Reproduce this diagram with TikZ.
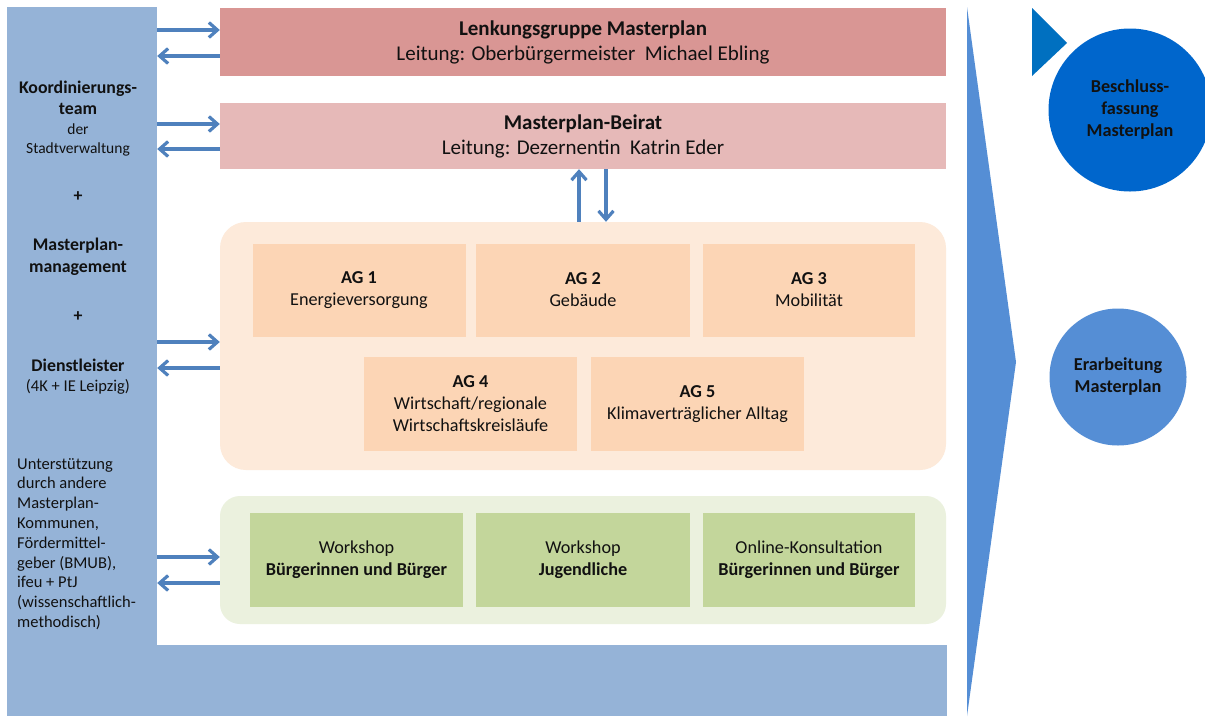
\documentclass[tikz,border=0pt]{standalone}
\usepackage{fontspec}
\setmainfont{Carlito}
\usetikzlibrary{arrows.meta, positioning, calc}
\definecolor{CPanel}{HTML}{95B3D7}
\definecolor{CLenk}{HTML}{D99694}
\definecolor{CBeirat}{HTML}{E6B9B8}
\definecolor{CPeachLight}{HTML}{FDEADA}
\definecolor{CPeach}{HTML}{FCD5B5}
\definecolor{CGreenLight}{HTML}{EBF1DE}
\definecolor{CGreen}{HTML}{C3D69B}
\definecolor{CArrow}{HTML}{4F81BD}
\definecolor{CChevron}{HTML}{558ED5}
\definecolor{CDecide}{HTML}{0066CC}
\definecolor{CTri}{HTML}{0070C0}
\definecolor{CText}{HTML}{111111}
\newcommand{\fsTop}{\fontsize{21}{25}\selectfont}
\newcommand{\fsBox}{\fontsize{18.2}{22}\selectfont}
\newcommand{\fsSide}{\fontsize{17.8}{21.5}\selectfont}
\newcommand{\fsSmall}{\fontsize{15.5}{19}\selectfont}
\newcommand{\fsNote}{\fontsize{16.5}{19.8}\selectfont}

\begin{document}
\begin{tikzpicture}[x=1pt, y=-1pt,
    box/.style={rectangle, inner sep=0pt, align=center, text=CText},
    sidetext/.style={inner sep=0pt, align=center, text=CText, font=\fsSide},
    flow/.style={draw=CArrow, line width=3.2pt, -{Straight Barb[length=8.5pt,width=15pt]}},
    phase/.style={circle, inner sep=0pt, align=center, text=CText, font=\fsBox\bfseries}]
    \useasboundingbox[fill=white] (0,0) rectangle (1205,716);

    % Coordination panel (left column + bottom strip)
    \node[box, fill=CPanel, minimum width=150pt, minimum height=709pt] (koordpanel) at (82,361.5) {};
    \fill[CPanel] (156,645) rectangle (947,716);

    \node[sidetext, font=\fsSide\bfseries] (koordhead) at (78,98) {Koordinierungs-\\team};
    \node[sidetext, font=\fsSmall] (koordsub) at (78,140) {der\\Stadtverwaltung};
    \node[sidetext, font=\fsSide\bfseries] (plusA) at (78,197) {+};
    \node[sidetext, font=\fsSide\bfseries] (mgmt) at (78,257) {Masterplan-\\management};
    \node[sidetext, font=\fsSide\bfseries] (plusB) at (78,317) {+};
    \node[sidetext, font=\fsSide\bfseries] (dienst) at (78,365) {Dienstleister};
    \node[sidetext, font=\fsNote] (dienstsub) at (78,387) {(4K + IE Leipzig)};
    \node[sidetext, font=\fsNote, align=left, anchor=west] (support) at (17,544)
        {Unterstützung\\durch andere\\Masterplan-\\Kommunen,\\Fördermittel-\\geber (BMUB),\\ifeu + PtJ\\(wissenschaftlich-\\methodisch)};

    % Steering bodies
    \node[box, fill=CLenk, minimum width=726pt, minimum height=68pt, font=\fsTop] (lenk) at (583,42)
        {\textbf{Lenkungsgruppe Masterplan}\\Leitung: Oberbürgermeister\ \ Michael Ebling};
    \node[box, fill=CBeirat, minimum width=726pt, minimum height=66pt, font=\fsTop] (beirat) at (583,136)
        {\textbf{Masterplan-Beirat}\\Leitung: Dezernentin\ \ Katrin Eder};

    % Working groups
    \node[box, fill=CPeachLight, rounded corners=26pt, minimum width=726pt, minimum height=248pt] (agframe) at (583,346) {};
    \node[box, fill=CPeach, minimum width=213pt, minimum height=93pt, font=\fsBox] (ag1) at (359,290) {\textbf{AG 1}\\Energieversorgung};
    \node[box, fill=CPeach, minimum width=214pt, minimum height=93pt, font=\fsBox] (ag2) at (583,290) {\textbf{AG 2}\\Gebäude};
    \node[box, fill=CPeach, minimum width=212pt, minimum height=93pt, font=\fsBox] (ag3) at (809,290) {\textbf{AG 3}\\Mobilität};
    \node[box, fill=CPeach, minimum width=213pt, minimum height=94pt, font=\fsBox] (ag4) at (470.5,404) {\textbf{AG 4}\\Wirtschaft/regionale\\Wirtschaftskreisläufe};
    \node[box, fill=CPeach, minimum width=213pt, minimum height=94pt, font=\fsBox] (ag5) at (697.5,404) {\textbf{AG 5}\\Klimaverträglicher Alltag};

    % Participation
    \node[box, fill=CGreenLight, rounded corners=20pt, minimum width=726pt, minimum height=128pt] (partframe) at (583,560) {};
    \node[box, fill=CGreen, minimum width=213pt, minimum height=94pt, font=\fsBox] (ws1) at (356.5,560) {Workshop\\\textbf{Bürgerinnen und Bürger}};
    \node[box, fill=CGreen, minimum width=214pt, minimum height=94pt, font=\fsBox] (ws2) at (583,560) {Workshop\\\textbf{Jugendliche}};
    \node[box, fill=CGreen, minimum width=212pt, minimum height=94pt, font=\fsBox] (ws3) at (809,560) {Online-Konsultation\\\textbf{Bürgerinnen und Bürger}};

    % Arrows panel <-> bodies
    \foreach \target/\up/\down in {lenk/-12/14, beirat/-12/13, agframe/-4/22, partframe/-3/23} {
        \draw[flow] ($(koordpanel.east |- \target.west)+(0,\up)$) -- ($(\target.west)+(0,\up)$);
        \draw[flow] ($(\target.west)+(0,\down)$) -- ($(koordpanel.east |- \target.west)+(0,\down)$);
    }
    \draw[flow] ($(agframe.north)+(-4,0)$) -- ($(beirat.south)+(-4,0)$);
    \draw[flow] ($(beirat.south)+(23,0)$) -- ($(agframe.north)+(23,0)$);

    % Process chevron and phases
    \fill[CChevron] (967,7) -- (1016,362) -- (967,716) -- cycle;
    \fill[CTri] (1032,8) -- (1067,43) -- (1032,76) -- cycle;
    \node[phase, fill=CDecide, minimum size=163pt] (beschluss) at (1130,110) {Beschluss-\\fassung\\Masterplan};
    \node[phase, fill=CChevron, minimum size=137pt] (erarbeitung) at (1118,377) {Erarbeitung\\Masterplan};
\end{tikzpicture}
\end{document}
